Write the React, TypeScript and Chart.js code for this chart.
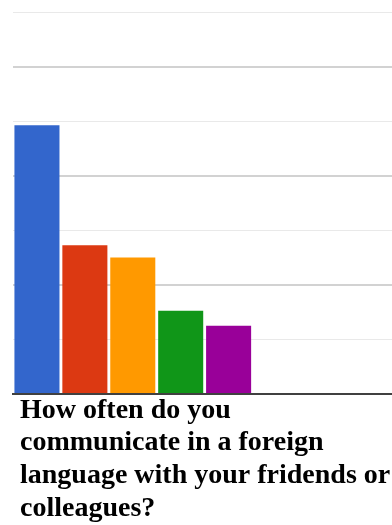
import React, { useEffect, useRef } from "react";
import { Chart, registerables } from "chart.js";

Chart.register(...registerables);

// Answer options (shown only through colours in the reference)
const categories = ["Option 1", "Option 2", "Option 3", "Option 4", "Option 5"];
const values = [19.7, 10.9, 10.0, 6.1, 5.0];
const colors = ["#3366cc", "#dc3912", "#ff9900", "#109618", "#990099"];
const titleLines = [
  "How often do you",
  "communicate in a foreign",
  "language with your fridends or",
  "colleagues?",
];
const yMax = 28;
const yStep = 4;

export default function App() {
  const ref = useRef<HTMLCanvasElement | null>(null);

  useEffect(() => {
    document.body.style.margin = "0";
    document.body.style.overflow = "hidden";
    const canvas = ref.current;
    if (!canvas) return;
    const chart = new Chart(canvas, {
      type: "bar",
      data: {
        datasets: [
          {
            label: "Responses",
            data: values.map((v, i) => ({ x: i, y: v })),
            backgroundColor: colors,
            borderWidth: 0,
            barPercentage: 0.94,
            categoryPercentage: 1,
          },
        ],
      },
      options: {
        responsive: false,
        animation: false,
        layout: { padding: { left: 13, right: 0, top: 12, bottom: 0 } },
        plugins: {
          legend: { display: false },
          tooltip: {
            callbacks: {
              title: (items) => categories[items[0].dataIndex] ?? "",
            },
          },
        },
        scales: {
          x: {
            type: "linear",
            offset: false,
            min: -0.5,
            max: 7.41,
            grid: { display: false, drawTicks: false, offset: false },
            ticks: { display: false },
            border: { display: true, color: "#404040", width: 2 },
            title: {
              display: true,
              text: titleLines.map((t) => " " + t),
              align: "start",
              color: "#000",
              font: {
                family: "'Liberation Serif', 'Times New Roman', serif",
                size: 28,
                weight: "bold",
                lineHeight: "32.75px",
              },
              padding: { top: 0, bottom: 0 },
            },
          },
          y: {
            min: 0,
            max: yMax,
            ticks: { display: false, stepSize: yStep },
            border: { display: false },
            grid: {
              drawTicks: false,
              color: (ctx) =>
                ctx.tick && ctx.tick.value % (yStep * 2) === 0 ? "#d2d2d2" : "#e9e9e9",
              lineWidth: (ctx) =>
                ctx.tick && ctx.tick.value % (yStep * 2) === 0 ? 2 : 1,
            },
          },
        },
      },
    });
    return () => chart.destroy();
  }, []);

  return (
    <div style={{ width: 392, height: 525, overflow: "hidden" }}>
      <canvas ref={ref} width={392} height={525} style={{ display: "block" }} />
    </div>
  );
}
